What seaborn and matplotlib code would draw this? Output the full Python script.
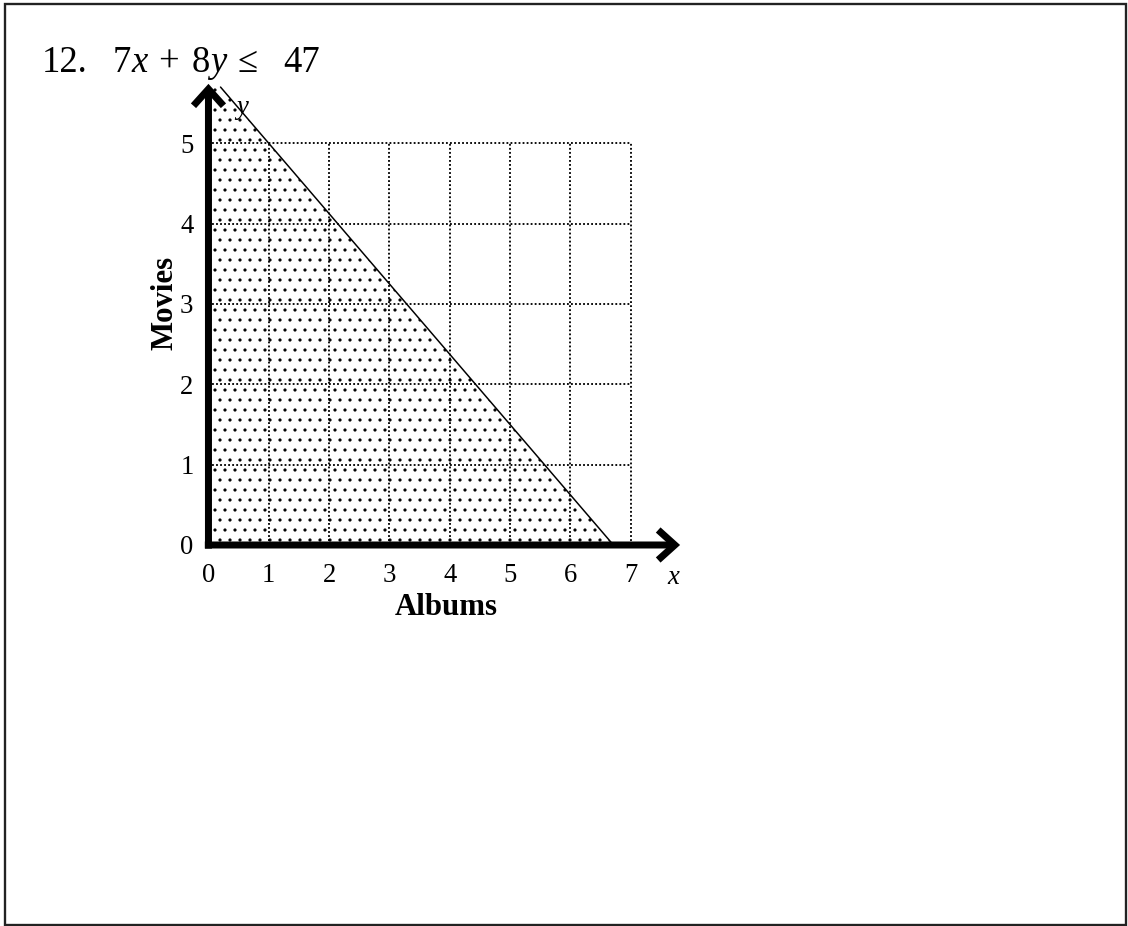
import matplotlib
matplotlib.use("Agg")
import matplotlib.pyplot as plt
from matplotlib.patches import Rectangle
import numpy as np
import pandas as pd
import seaborn as sns

# Inequality 7x + 8y <= 47 (albums x, movies y)
coef_x = 7
coef_y = 8
rhs = 47
problem_no = "12."

x_ticks = [0, 1, 2, 3, 4, 5, 6, 7]
y_ticks = [0, 1, 2, 3, 4, 5]
x_label = "Albums"
y_label = "Movies"

# vertical reach of the boundary line / shaded region
boundary_y = [5.7, 0.0]

sns.set_theme(style="white")
plt.rcParams["font.family"] = ["Liberation Serif", "DejaVu Serif"]
plt.rcParams["hatch.linewidth"] = 0.7
for key in ("text.color", "axes.labelcolor", "xtick.color", "ytick.color"):
    plt.rcParams[key] = "black"

DPI = 120
W, H = 1128, 926
fig = plt.figure(figsize=(W / DPI, H / DPI), dpi=DPI)
fig.patch.set_facecolor("white")

ax = fig.add_axes([0.10461, 0.28132, 0.53466, 0.69406])
ax.set_xlim(-1.5, 8.5)
ax.set_ylim(-1.5, 6.5)
ax.set_facecolor("none")

# dotted grid inside the first quadrant
xmax, ymax = x_ticks[-1], y_ticks[-1]
grid_kw = dict(color="black", linewidth=1.1, linestyle=(0, (1, 1.2)), zorder=1)
ax.vlines(x_ticks[1:], 0, ymax, **grid_kw)
ax.hlines(y_ticks[1:], 0, xmax, **grid_kw)

# boundary line 7x + 8y = 47
bnd = pd.DataFrame({"y": boundary_y})
bnd["x"] = (rhs - coef_y * bnd["y"]) / coef_x
sns.lineplot(data=bnd, x="x", y="y", color="black", linewidth=0.9,
             sort=False, estimator=None, ax=ax, zorder=4)

# shaded solution region (dotted texture)
x_top = bnd["x"].iloc[0]
x_int = bnd["x"].iloc[-1]
ax.fill_between([0, x_top, x_int], 0, [boundary_y[0], boundary_y[0], 0],
                facecolor="none", edgecolor="black", hatch="..",
                linewidth=0, zorder=2)

# thick arrowed axes
arrow_kw = dict(arrowstyle="->,head_length=0.5,head_width=0.45", lw=4.2,
                color="black", shrinkA=0, shrinkB=0, mutation_scale=20,
                joinstyle="miter", capstyle="butt")
ax.annotate("", xy=(7.82, 0), xytext=(-0.06, 0), arrowprops=arrow_kw, zorder=5)
ax.annotate("", xy=(0, 5.74), xytext=(0, -0.045), arrowprops=arrow_kw, zorder=5)

# ticks on the data axes
for side in ("top", "right"):
    ax.spines[side].set_visible(False)
for side in ("left", "bottom"):
    ax.spines[side].set_position(("data", 0))
    ax.spines[side].set_color("none")
ax.set_xticks(x_ticks)
ax.set_yticks(y_ticks)
ax.set_xticklabels([str(v) for v in x_ticks])
ax.set_yticklabels([str(v) for v in y_ticks])
ax.tick_params(axis="x", length=0, pad=11, labelsize=16)
ax.tick_params(axis="y", length=0, pad=9, labelsize=16)
ax.grid(False)

# axis names
ax.set_xlabel(x_label, fontsize=18.5, fontweight="bold")
ax.xaxis.set_label_coords(3.95, -0.78, transform=ax.transData)
ax.xaxis.label.set_va("center")
ax.set_ylabel(y_label, fontsize=18.5, fontweight="bold")
ax.yaxis.set_label_coords(-0.72, 3.01, transform=ax.transData)
ax.yaxis.label.set_va("center")
ax.yaxis.label.set_ha("center")

ax.text(7.70, -0.41, "x", fontsize=16, style="italic", ha="center", va="center")
ax.text(0.56, 5.45, "y", fontsize=16, style="italic", ha="center", va="center", zorder=6)

# problem statement
base = 1 - 72 / H
tkw = dict(fontsize=22, va="baseline", color="black")
fig.text(42 / W, base, problem_no, ha="left", **tkw)
fig.text(113 / W, base, str(coef_x), ha="left", **tkw)
fig.text(131 / W, base, "x", ha="left", style="italic", **tkw)
fig.text(168 / W, base, "+", ha="center", **tkw)
fig.text(192 / W, base, str(coef_y), ha="left", **tkw)
fig.text(210 / W, base, "y", ha="left", style="italic", **tkw)
fig.text(248 / W, base, "\u2264", ha="center", **tkw)
fig.text(283 / W, base, str(rhs), ha="left", **tkw)

# page frame
fig.patches.append(Rectangle((4.5 / W, 1.5 / H), 1121 / W, 920.5 / H,
                             transform=fig.transFigure, fill=False,
                             edgecolor="#222222", linewidth=1.4))

fig.savefig("out.png", dpi=DPI, facecolor="white")
